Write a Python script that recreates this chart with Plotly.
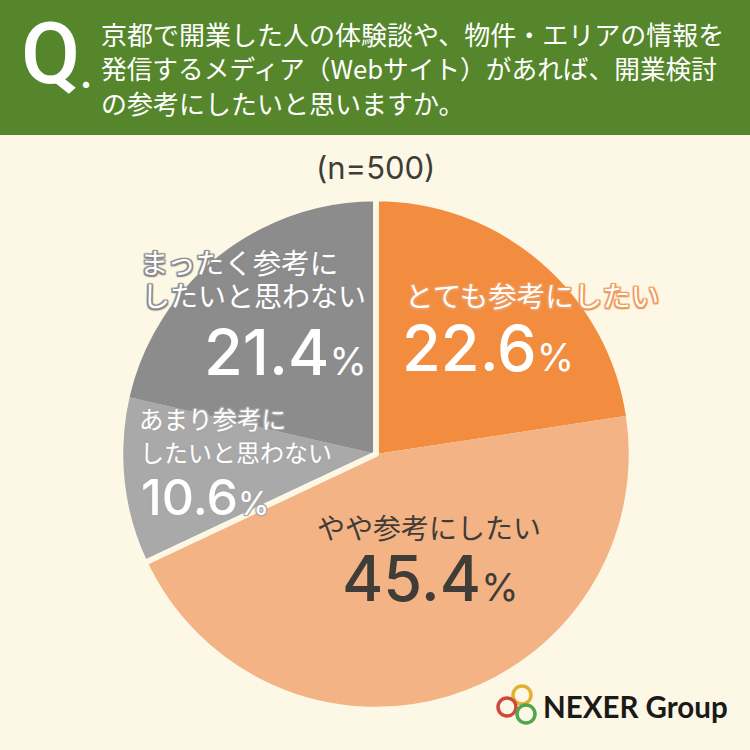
import plotly.graph_objects as go

# answers, clockwise from the top
answers = ["とても参考にしたい", "やや参考にしたい", "あまり参考にしたいと思わない", "まったく参考にしたいと思わない"]
shares = [22.6, 45.4, 10.6, 21.4]
slice_colors = ["#f28c3f", "#f4b385", "#a9a9a9", "#8c8c8c"]

question_lines = [
    "京都で開業した人の体験談や、物件・エリアの情報を",
    "発信するメディア（Webサイト）があれば、開業検討",
    "の参考にしたいと思いますか。",
]
sample_note = "(n=500)"

GREEN = "#55862b"
CREAM = "#fdf8e6"
DARK = "#403c38"
JP = "Noto Sans CJK JP"
NUM = "Inter"
W = 750


def px(x):
    return x / W


def py(y):
    return 1 - y / W


def halo(color, r=1.5):
    return ", ".join(f"{color} {dx}px {dy}px 1px" for dx, dy in [(-r, 0), (r, 0), (0, -r), (0, r), (-r, -r), (r, r), (-r, r), (r, -r)])


pie_domain = dict(x=[px(120.5), px(631.5)], y=[py(709.5), py(198.5)])

fig = go.Figure()

fig.add_trace(go.Pie(
    labels=answers,
    values=shares,
    sort=False,
    direction="clockwise",
    rotation=0,
    marker=dict(colors=slice_colors, line=dict(width=0)),
    textinfo="none",
    showlegend=False,
    domain=pie_domain,
))

# the cream gap only sits between the orange group and the gray group
fig.add_trace(go.Pie(
    labels=["参考にしたい", "参考にしたくない"],
    values=[shares[0] + shares[1], shares[2] + shares[3]],
    sort=False,
    direction="clockwise",
    rotation=0,
    marker=dict(colors=["rgba(0,0,0,0)", "rgba(0,0,0,0)"], line=dict(color=CREAM, width=5.5)),
    textinfo="none",
    showlegend=False,
    hoverinfo="skip",
    domain=pie_domain,
))

shapes = [
    dict(type="rect", xref="paper", yref="paper", x0=0, x1=1, y0=py(135), y1=1,
         fillcolor=GREEN, line_width=0, layer="below"),
]
# logo rings
for cx, cy, col in [(522, 695, "#e3b12f"), (507, 707, "#d0473c"), (526, 714, "#4fa64f")]:
    shapes.append(dict(type="circle", xref="paper", yref="paper",
                       x0=px(cx - 9), x1=px(cx + 9), y0=py(cy + 9), y1=py(cy - 9),
                       line=dict(color=col, width=3.5), fillcolor="rgba(0,0,0,0)"))

annotations = []


def note(x, y, text, size, color, family=JP, anchor="left", weight=400, shadow=None):
    font = dict(family=family, size=size, color=color, weight=weight)
    if shadow:
        font["shadow"] = shadow
    annotations.append(dict(xref="paper", yref="paper", x=px(x), y=py(y), text=text,
                            showarrow=False, xanchor=anchor, yanchor="middle",
                            borderpad=0, font=font))


def pct(value, pct_size):
    return f"{value}<span style='font-size:{pct_size}px;font-weight:400'>%</span>"


# header
note(20, 54, "Q", 86, "white", family="Roboto", weight=500)
note(79, 76, ".", 34, "white", family=NUM, weight=800)
for y, size, line in zip([33, 67, 103], [26, 25.7, 26], question_lines):
    note(100, y, line, size, "white")
note(375, 167, sample_note, 31, DARK, family=NUM, anchor="center")

# slice labels
note(404, 294, answers[0], 28.5, "white", shadow=halo("#ef9a5c"))
note(401, 348, pct(shares[0], 38), 63, "white", family=NUM, weight=500)
note(316, 527, answers[1], 28, DARK)
note(341, 578, pct(shares[1], 38), 63, DARK, family=NUM, weight=500)
note(139, 262, "まったく参考に", 28.5, "white", shadow=halo("#8c8c8c"))
note(141, 295, "したいと思わない", 28, "white", shadow=halo("#8c8c8c"))
note(203, 352, pct(shares[3], 38), 63, "white", family=NUM, weight=500)
note(138, 418, "あまり参考に", 24.5, "white", shadow=halo("#a9a9a9", 1))
note(139, 451, "したいと思わない", 24, "white", shadow=halo("#a9a9a9", 1))
note(140, 497, pct(shares[2], 32), 50, "white", family=NUM, weight=500, shadow=halo("#a9a9a9", 1))

# logo text
note(542, 706, "<b>NEXER Group</b>", 29.5, "#1a1a18", family="Lato")

fig.update_layout(
    width=W,
    height=W,
    margin=dict(l=0, r=0, t=0, b=0),
    paper_bgcolor=CREAM,
    plot_bgcolor=CREAM,
    shapes=shapes,
    annotations=annotations,
)

fig.write_html("out.html", config=dict(displayModeBar=False),
               post_script="document.body.style.margin='0';document.body.style.overflow='hidden';")
